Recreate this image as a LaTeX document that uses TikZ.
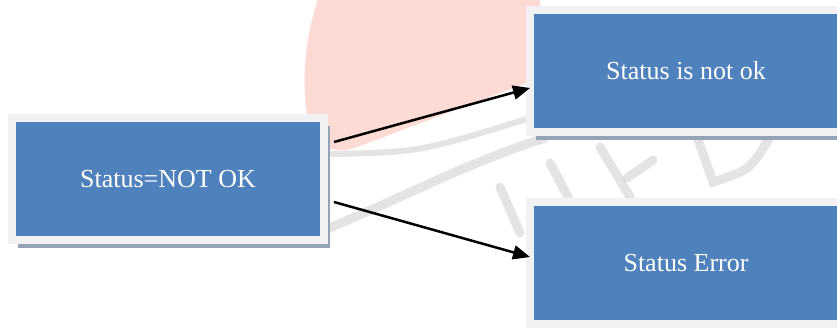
\documentclass[tikz,border=0pt]{standalone}
\usepackage{fontspec}
\setmainfont{Liberation Serif}
\usetikzlibrary{arrows.meta,shadows}
\definecolor{boxblue}{HTML}{4F81BD}
\definecolor{framegrey}{HTML}{F2F2F2}
\definecolor{shadowgrey}{HTML}{95A3B8}
\definecolor{markpink}{HTML}{FDDBD4}
\definecolor{markgrey}{HTML}{D2D2D2}
\tikzset{
  statusbox/.style={draw=framegrey, line width=8pt, fill=boxblue,
    minimum width=312pt, minimum height=122pt, text=white,
    font=\fontsize{26}{30}\selectfont,
    drop shadow={shadow xshift=6pt, shadow yshift=-8pt, fill=shadowgrey, opacity=1}},
  flow/.style={-{Triangle[length=17pt,width=14pt]}, line width=2.5pt},
  wmstroke/.style={markgrey, line width=9pt, line cap=round, opacity=0.6}
}
\begin{document}
\begin{tikzpicture}[x=1pt, y=-1pt]
  \useasboundingbox[fill=white] (0, 0) rectangle (837, 327);

  \fill[markpink] (318, 0) .. controls (300, 50) and (300, 120) .. (318, 142)
    .. controls (328, 152) and (345, 152) .. (360, 146) -- (540, 78) -- (540, 0) -- cycle;
  \draw[wmstroke, line width=6pt] (332, 154) .. controls (420, 152) .. (530, 118);
  \draw[wmstroke] (300, 240) .. controls (400, 200) and (460, 165) .. (545, 138);
  \draw[wmstroke] (500, 187) -- (520, 233);
  \draw[wmstroke] (550, 163) -- (568, 197);
  \draw[wmstroke] (600, 147) -- (630, 197);
  \draw[wmstroke] (627, 178) -- (653, 160);
  \draw[wmstroke] (697, 137) -- (713, 182) .. controls (750, 170) .. (770, 137);

  \node[statusbox] (notok) at (168, 179) {Status=NOT OK};
  \node[statusbox] (isnotok) at (686, 71) {Status is not ok};
  \node[statusbox] (error) at (686, 263) {Status Error};

  \draw[flow] ([xshift=6pt, yshift=37pt]notok.east) -- ([xshift=4pt, yshift=-17pt]isnotok.west);
  \draw[flow] ([xshift=6pt, yshift=-23pt]notok.east) -- ([xshift=4pt, yshift=6pt]error.west);
\end{tikzpicture}
\end{document}
